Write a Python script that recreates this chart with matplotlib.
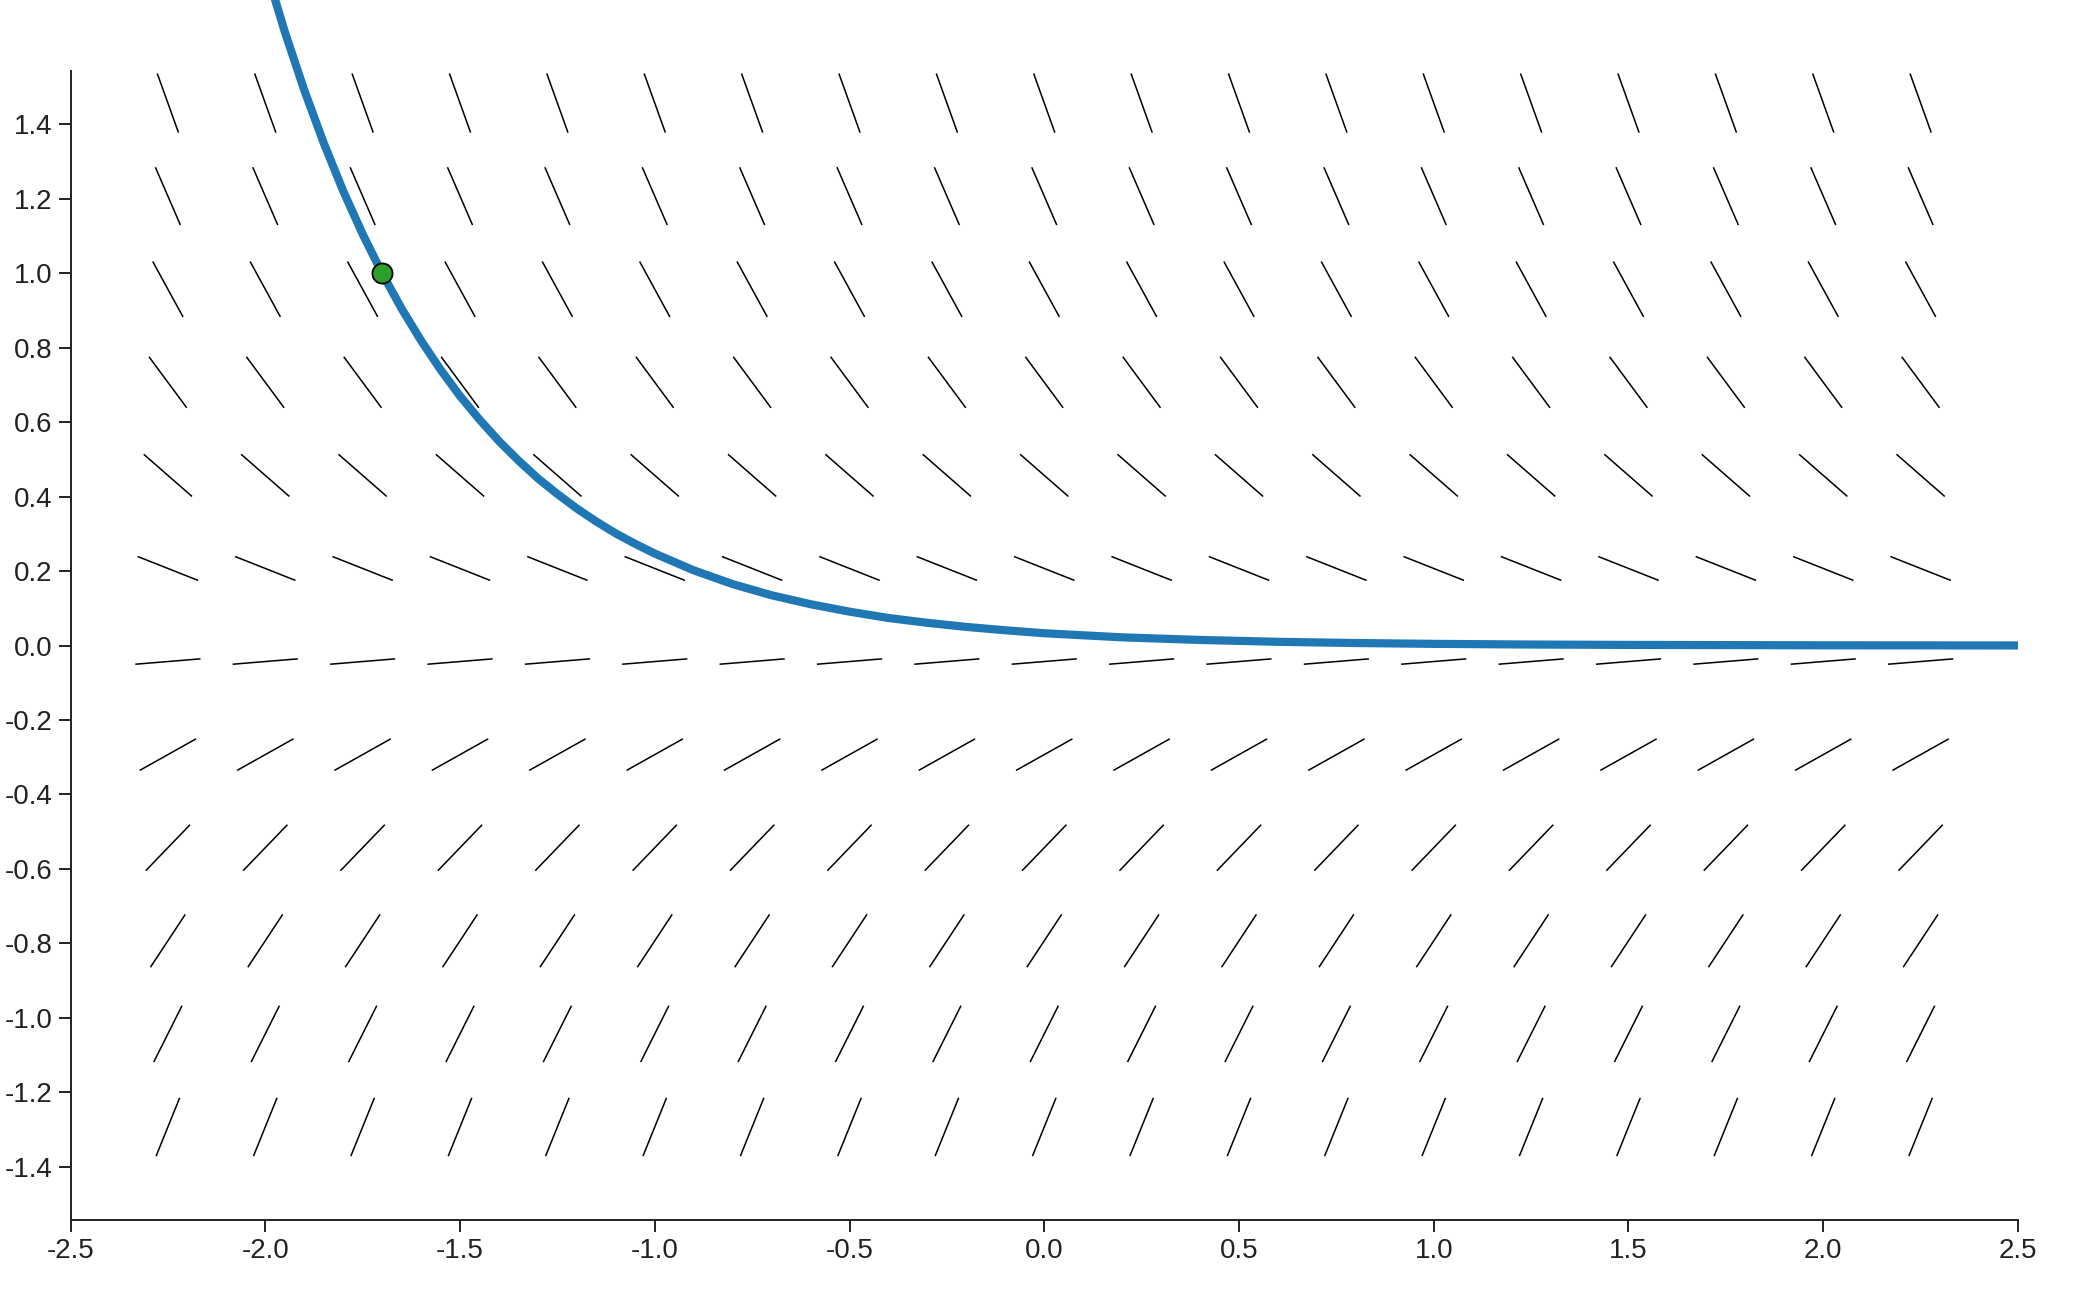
import numpy as np
import matplotlib
matplotlib.use('Agg')
import matplotlib.pyplot as plt
from matplotlib.collections import LineCollection

# grid of slope-field centres
col_x = [-2.25, -2.0, -1.75, -1.5, -1.25, -1.0, -0.75, -0.5, -0.25, 0.0,
         0.25, 0.5, 0.75, 1.0, 1.25, 1.5, 1.75, 2.0, 2.25]
row_y = [1.457, 1.207, 0.957, 0.707, 0.457, 0.207, -0.043, -0.293,
         -0.543, -0.793, -1.043, -1.293]
# slope of the segments in each row (dy/dx)
row_slope = [-2.914, -2.414, -1.914, -1.414, -0.914, -0.414, 0.086, 0.586,
             1.086, 1.586, 2.086, 2.586]
seg_len = 0.168

# solution curve through the marked point
curve_x = [-2.0, -1.95, -1.9, -1.85, -1.8, -1.75, -1.7, -1.65, -1.6, -1.55,
           -1.5, -1.45, -1.4, -1.35, -1.3, -1.25, -1.2, -1.15, -1.1, -1.05,
           -1.0, -0.9, -0.8, -0.7, -0.6, -0.5, -0.4, -0.3, -0.2, -0.1,
           0.0, 0.2, 0.4, 0.6, 0.8, 1.0, 1.25, 1.5, 2.0, 2.5]
curve_y = [1.822, 1.649, 1.492, 1.350, 1.221, 1.105, 1.0, 0.905, 0.819, 0.741,
           0.670, 0.607, 0.549, 0.497, 0.449, 0.407, 0.368, 0.333, 0.301, 0.273,
           0.247, 0.202, 0.165, 0.135, 0.111, 0.091, 0.074, 0.061, 0.050, 0.041,
           0.033, 0.022, 0.015, 0.010, 0.0067, 0.0045, 0.0027, 0.0017, 0.0006, 0.0002]
point_x = [-1.7]
point_y = [1.0]

x_ticks = [-2.5, -2.0, -1.5, -1.0, -0.5, 0.0, 0.5, 1.0, 1.5, 2.0, 2.5]
y_ticks = [-1.4, -1.2, -1.0, -0.8, -0.6, -0.4, -0.2, 0.0, 0.2, 0.4, 0.6, 0.8,
           1.0, 1.2, 1.4]

plt.rcParams['font.family'] = ['Liberation Sans', 'DejaVu Sans']

fig = plt.figure(figsize=(20.86, 12.89), dpi=100)
ax = fig.add_axes([0.0338, 0.0535, 0.9336, 0.8914])
ax.set_xlim(-2.5, 2.5)
ax.set_ylim(-1.543, 1.543)

segs = []
for y, m in zip(row_y, row_slope):
    dx = seg_len / 2 / np.sqrt(1 + m * m)
    for x in col_x:
        segs.append([(x - dx, y - m * dx), (x + dx, y + m * dx)])
ax.add_collection(LineCollection(segs, colors='black', linewidths=1.1))

ax.plot(curve_x, curve_y, color='#1f77b4', lw=5.9, clip_on=False,
        solid_capstyle='butt', zorder=3)
ax.plot(point_x, point_y, 'o', color='#2ca02c', markersize=14.5,
        markeredgecolor='black', markeredgewidth=1.3, clip_on=False, zorder=4)

for s in ['top', 'right']:
    ax.spines[s].set_visible(False)
for s in ['left', 'bottom']:
    ax.spines[s].set_linewidth(1.4)
    ax.spines[s].set_color('#222222')

ax.set_xticks(x_ticks)
ax.set_xticklabels([f'{v:.1f}' for v in x_ticks])
ax.set_yticks(y_ticks)
ax.set_yticklabels([f'{v:.1f}' for v in y_ticks])
ax.tick_params(length=8.6, width=1.4, pad=4.3, labelsize=20,
               color='#222222', labelcolor='#222222')

fig.savefig('out.png', dpi=100)
